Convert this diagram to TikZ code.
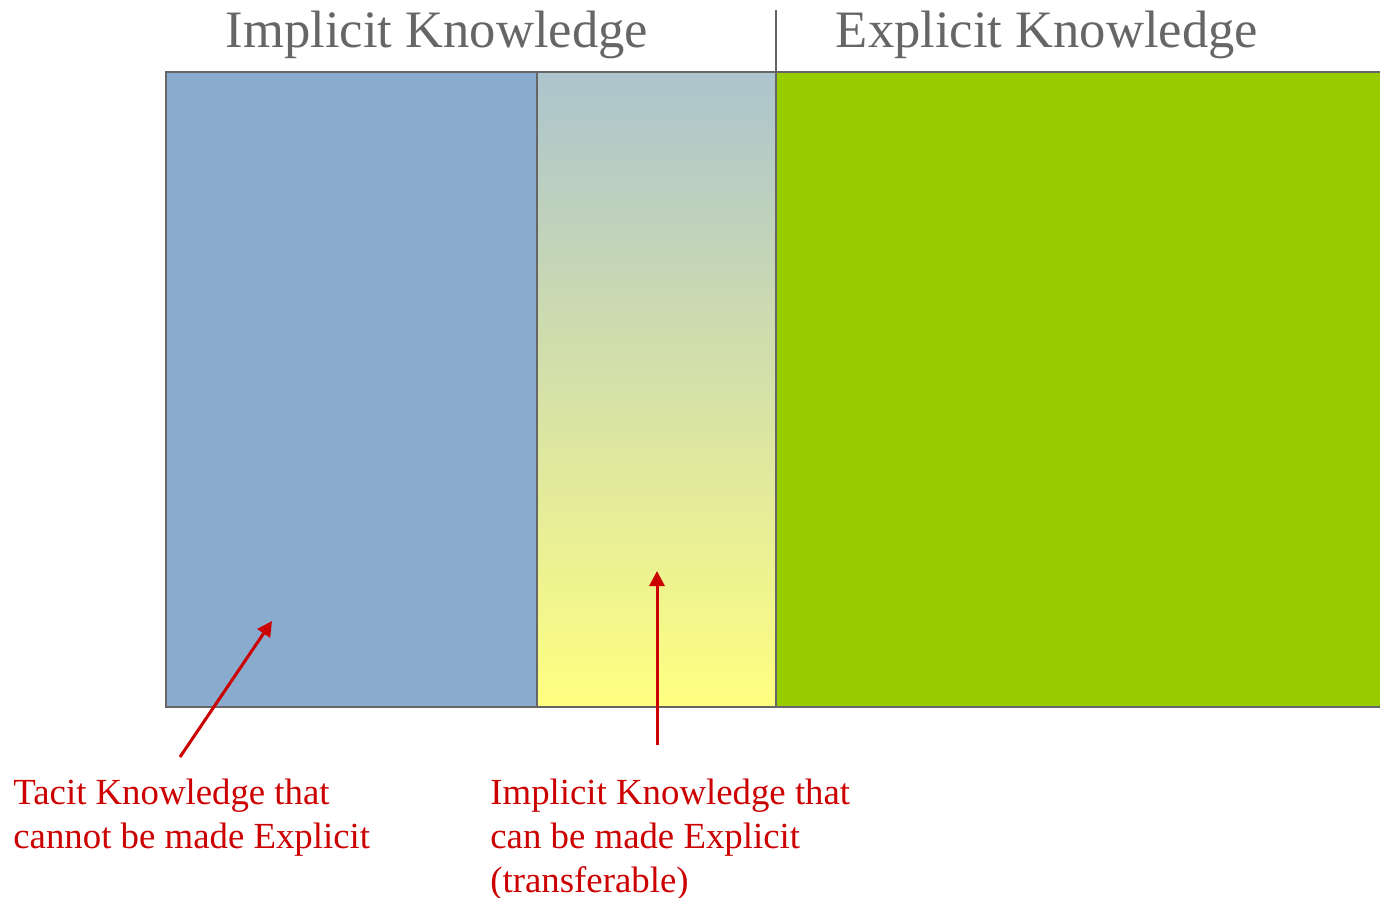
\documentclass[tikz,border=0pt]{standalone}
\usepackage{fontspec}
\setmainfont{Liberation Serif}
\usetikzlibrary{arrows.meta, positioning}

\definecolor{tacitblue}{RGB}{137,172,206}
\definecolor{explicitgreen}{RGB}{153,204,0}
\definecolor{framegray}{RGB}{102,102,102}
\definecolor{notered}{RGB}{204,0,0}
\definecolor{shadetop}{RGB}{172,196,206}
\definecolor{shadebot}{RGB}{255,255,128}

\tikzset{
  block/.style={draw=framegray, line width=1.2pt, anchor=north west, minimum height=317.5pt, inner sep=0pt, outer sep=0pt},
  heading/.style={text=framegray, font=\fontsize{26.3}{31}\selectfont, inner sep=0pt, anchor=base},
  note/.style={text=notered, font=\fontsize{18.4}{22}\selectfont, align=left, inner sep=0pt, anchor=north west},
  pointer/.style={->, draw=notered, line width=1.5pt}
}

\begin{document}
\begin{tikzpicture}[x=0.5pt, y=-0.5pt, >={Triangle[length=7.5pt, width=7.5pt]}]
        \useasboundingbox (0,0) rectangle (1380,898);

        % the three bands
        \node[block, fill=tacitblue, minimum width=185.5pt] (tacit) at (166,72) {};
        \node[block, top color=shadetop, bottom color=shadebot, minimum width=119.5pt] (transfer) at (537,72) {};
        \node[block, fill=explicitgreen, minimum width=320pt] (explicit) at (776,72) {};

        \coordinate (divtop) at (776,10);
        \draw[framegray, line width=1.2pt] (transfer.north east) -- (divtop);

        \node[heading] (implicitlabel) at (437,48) {Implicit Knowledge};
        \node[heading] (explicitlabel) at (1047,48) {Explicit Knowledge};

        % notes below
        \node[note] (tacitnote) at (13,779) {Tacit Knowledge that\\cannot be made Explicit};
        \node[note] (transfernote) at (490,779) {Implicit Knowledge that\\can be made Explicit\\(transferable)};

        \coordinate (tacittail) at (180,757);
        \coordinate (tacittip) at (272,621);
        \coordinate (transfertail) at (657,745);
        \coordinate (transfertip) at (657,571);

        \draw[pointer] (tacittail) -- (tacittip);
        \draw[pointer] (transfertail) -- (transfertip);
    \end{tikzpicture}
\end{document}
